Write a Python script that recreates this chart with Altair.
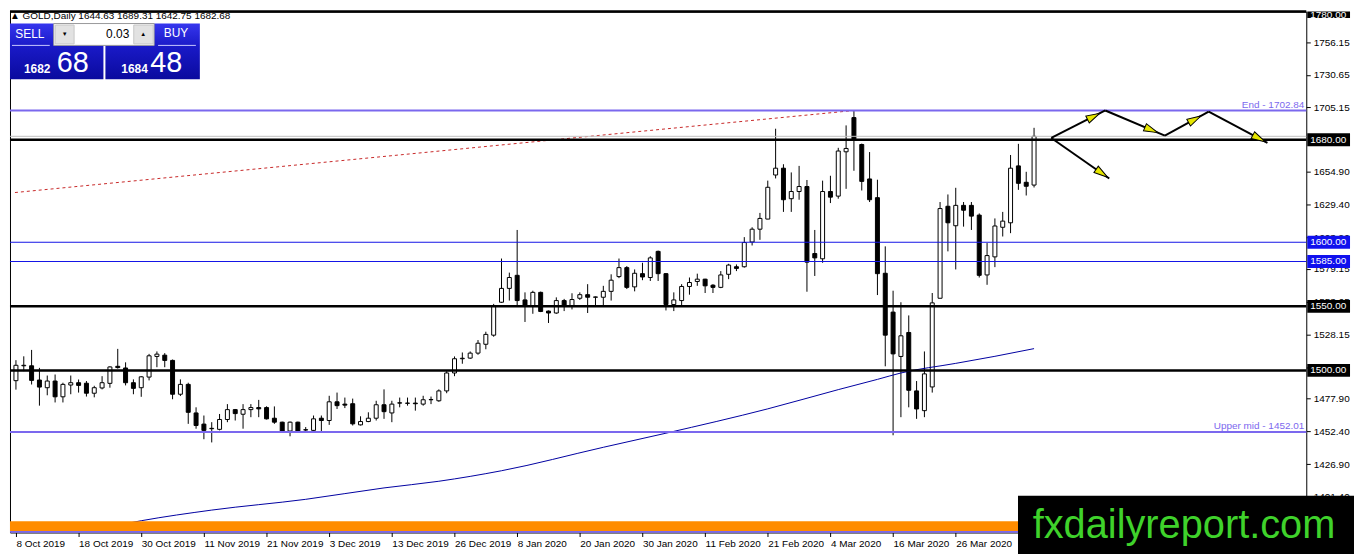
import math
import altair as alt
import pandas as pd

# ---------------- data ----------------
opens = [1492, 1503.6, 1503.6, 1492.5, 1486.5, 1491.7, 1479.4, 1488.6, 1490.4, 1490,
         1482.2, 1486.3, 1489.9, 1503.2, 1501.9, 1490.4, 1486.5, 1494.8, 1510.9, 1511.9,
         1507.8, 1481.4, 1489.1, 1466.8, 1458.1, 1454.5, 1454, 1461.7, 1469.4, 1465.8,
         1469.4, 1471, 1471, 1462.7, 1459.6, 1452.7, 1459.6, 1453.7, 1453.2, 1462.7,
         1460.9, 1475.5, 1473.7, 1474, 1457.5, 1460.1, 1462.7, 1473.2, 1466.8, 1474.7,
         1474.3, 1474.5, 1473.7, 1477.1, 1476.3, 1484, 1498, 1509.1, 1509.6, 1513.5,
         1520.4, 1527.5, 1553.2, 1564, 1574.2, 1555, 1550.6, 1560.9, 1546.3, 1544.8,
         1554.5, 1550.6, 1556.3, 1559.1, 1557.1, 1557.1, 1561.7, 1573.2, 1580.2, 1565.2,
         1575.5, 1572.5, 1592.9, 1575.5, 1551.4, 1554.5, 1565.5, 1569.4, 1571.2, 1566.5,
         1564.8, 1575, 1580.9, 1580.9, 1600.2, 1610.2, 1618.1, 1652.5, 1657.8, 1634,
         1639.6, 1643.5, 1591.2, 1587.1, 1639.6, 1636, 1670.6, 1697.3, 1676.3, 1649.4,
         1634.8, 1575.8, 1545.5, 1510.9, 1529.6, 1484, 1468.6, 1487.1, 1556.3, 1628.1,
         1612.9, 1628.8, 1628.8, 1621.2, 1574.5, 1588.6, 1611.7, 1615.2, 1659.6, 1646.8, 1644.63]
highs = [1508, 1511, 1516, 1502, 1496, 1496.8, 1490.4, 1496, 1492.9, 1491.7,
         1488, 1495.5, 1503.2, 1516.8, 1506.3, 1493, 1495.5, 1512.9, 1514.8, 1513.5,
         1508.5, 1493, 1490.4, 1471.2, 1464.8, 1459.6, 1466, 1473.7, 1469.9, 1473.7,
         1473.7, 1477, 1472, 1471.9, 1460, 1460.1, 1460, 1455.8, 1464.8, 1464.8,
         1480.2, 1482.7, 1478.8, 1478, 1464.2, 1467.3, 1476.3, 1485.2, 1476.3, 1478.8,
         1478.8, 1478.8, 1480.2, 1479.6, 1485.2, 1499.4, 1510.9, 1514, 1514.8, 1523.7,
         1530.2, 1551.9, 1587.3, 1576.3, 1609.6, 1560.9, 1562.2, 1561.5, 1546.8, 1557,
         1555.8, 1560.2, 1560.9, 1567.3, 1557.6, 1566, 1575, 1587.3, 1581.4, 1578.8,
         1584, 1589.1, 1593.5, 1576, 1560.9, 1567.3, 1572.5, 1575.5, 1571.5, 1567.3,
         1577.5, 1583.2, 1582.7, 1604, 1611.7, 1622.9, 1648.1, 1688.6, 1660.9, 1654.5,
         1659.6, 1648.6, 1609.6, 1648.1, 1651.9, 1673.7, 1691.2, 1702.84, 1677, 1670.4,
         1648.8, 1596.8, 1562.2, 1553.2, 1542.9, 1491.7, 1514.8, 1560.4, 1631.4, 1637.3,
         1642.5, 1631.4, 1631.4, 1622.5, 1599.4, 1618.6, 1623.7, 1668.1, 1676.8, 1655, 1689.31]
lows = [1485, 1499.4, 1489, 1472.5, 1480.6, 1475, 1475, 1481.4, 1482.7, 1479.6,
        1479, 1485.2, 1486.5, 1501.4, 1488.3, 1481.4, 1479.4, 1492.2, 1502.5, 1502.5,
        1477.5, 1480, 1458.3, 1454.5, 1446.3, 1443.8, 1453.2, 1459.6, 1460.9, 1454.5,
        1463.5, 1463.5, 1461.7, 1458.3, 1452.5, 1448.6, 1451.9, 1452.5, 1452.5, 1451.9,
        1457.5, 1469.9, 1470.6, 1457, 1457, 1459.6, 1460.9, 1462.2, 1459.6, 1471.2,
        1472.5, 1468.6, 1472.5, 1473.7, 1475.5, 1482.2, 1495.5, 1505.2, 1509, 1512.2,
        1516.5, 1526.3, 1552.7, 1554.5, 1550.6, 1537.8, 1544.2, 1545.5, 1537, 1544.2,
        1546.3, 1547.6, 1555, 1544.8, 1549.8, 1549.8, 1554.5, 1572, 1563.5, 1561.7,
        1570.4, 1569.8, 1569.8, 1546.8, 1546.3, 1550.2, 1559.1, 1566, 1560.4, 1560.4,
        1564.2, 1571.2, 1577.5, 1580.2, 1597.5, 1601.9, 1618, 1649.8, 1623.7, 1623.7,
        1633.2, 1561.4, 1573.7, 1584, 1630.6, 1634, 1641.7, 1655.8, 1640.4, 1631.4,
        1558.8, 1503.2, 1449.4, 1463.5, 1471.2, 1462.2, 1463.5, 1482.7, 1556.3, 1592.9,
        1578.8, 1612.2, 1609.6, 1572.5, 1566.8, 1580.6, 1604.5, 1607.1, 1640.9, 1636.5, 1642.75]
closes = [1504, 1504, 1492.2, 1487, 1491.7, 1479.4, 1489.1, 1490.4, 1488.3, 1482.2,
          1486.5, 1490.4, 1502.7, 1502.2, 1490.4, 1486, 1495, 1511.4, 1512.7, 1507.8,
          1481.4, 1489.1, 1467.3, 1457, 1453.2, 1454.8, 1461.7, 1469.4, 1466.3, 1469.4,
          1471, 1470, 1462.2, 1459.6, 1452.7, 1459.6, 1452.5, 1453.5, 1462.2, 1460.9,
          1475.5, 1472.5, 1472.9, 1458.3, 1460.1, 1462.7, 1473.2, 1467.8, 1473.7, 1474.5,
          1474.5, 1474, 1477.1, 1477.3, 1484, 1498, 1509.1, 1509.5, 1513.5, 1521.2,
          1528.1, 1550.6, 1564, 1572.5, 1554.5, 1550.6, 1560.9, 1546, 1544.8, 1554.5,
          1550.6, 1555.3, 1559.1, 1557.1, 1557.3, 1561.7, 1570.4, 1580.2, 1564.8, 1575.8,
          1572.9, 1587.8, 1575.5, 1551.4, 1555, 1565.5, 1568.6, 1571.2, 1566, 1564.8,
          1574.5, 1582.2, 1579.6, 1599.8, 1610.2, 1618.6, 1642.9, 1657.8, 1633.2, 1639.6,
          1643.5, 1584.5, 1587.8, 1639.6, 1635.2, 1671.2, 1673.2, 1680.2, 1647.5, 1633.2,
          1575.5, 1527.5, 1512.9, 1527, 1484.5, 1469.9, 1497.3, 1552.7, 1626.3, 1615.2,
          1628.8, 1625, 1620.4, 1574.2, 1589.6, 1612.7, 1616.5, 1657.8, 1646, 1643.7, 1682.68]

date_labels = ["8 Oct 2019", "18 Oct 2019", "30 Oct 2019", "11 Nov 2019", "21 Nov 2019",
               "3 Dec 2019", "13 Dec 2019", "26 Dec 2019", "8 Jan 2020", "20 Jan 2020",
               "30 Jan 2020", "11 Feb 2020", "21 Feb 2020", "4 Mar 2020", "16 Mar 2020",
               "26 Mar 2020"]
label_step = 8

ma_idx = [9, 16, 25, 37, 47, 54, 62, 75, 83, 96, 105, 110, 113, 120, 125, 130]
ma_val = [1374.2, 1382.7, 1391, 1399.4, 1408.3, 1413.5, 1421.7, 1440, 1451, 1470,
          1485, 1493, 1498, 1505.5, 1511, 1517]

trend_idx = [-0.125, 107]
trend_val = [1638.8, 1702.84]

price_ticks = [1756.15, 1730.65, 1705.15, 1654.90, 1629.40, 1603.90, 1579.15,
               1553.65, 1528.15, 1502.65, 1477.90, 1452.40, 1426.90, 1401.40]

black_levels = [1780, 1680, 1550, 1500]
blue_levels = [1600, 1585]
fibo_levels = [1702.84, 1452.01]
fibo_names = ["End - 1702.84", "Upper mid - 1452.01"]
bid_price = 1682.68
band_lo, band_hi = 1374.6, 1382.3
band_line = 1374.0

arrow_idx = [132.2, 139.1, 146.7, 152.3, 159.8]
arrow_val = [1681.4, 1702.84, 1683.2, 1701.9, 1677.5]
branch_idx, branch_val = 139.6, 1649.8
head_frac = [0.9, 0.88, 0.82, 0.96, 0.97]

title_text = "\u25B2 GOLD,Daily  1644.63 1689.31 1642.75 1682.68"
sell_big, sell_small = "68", "1682"
buy_big, buy_small = "48", "1684"
lot_text = "0.03"
watermark = "fxdailyreport.com"

# ---------------- layout ----------------
W, H = 1304, 524
XMIN, XMAX = -0.125, 164.125
YMIN, YMAX = 1373.5, 1780.0
kx = W / (XMAX - XMIN)
ky = H / (YMAX - YMIN)
FONT = "Liberation Sans"

xs = alt.Scale(domain=[XMIN, XMAX], nice=False, zero=False)
ys = alt.Scale(domain=[YMIN, YMAX], nice=False, zero=False)

label_expr = "[" + ",".join("'%s'" % s for s in date_labels) + "][round(datum.value/%d)]" % label_step
x_axis = alt.Axis(orient="bottom", values=[i * label_step for i in range(len(date_labels))],
                  labelExpr=label_expr, labelAlign="left", tickSize=4, tickColor="black",
                  labelPadding=2, labelFontSize=10, labelFont=FONT, labelColor="black",
                  domain=False, grid=False, title=None, labelFlush=False, labelOverlap=False)
y_axis = alt.Axis(orient="right", values=price_ticks, format=".2f", tickSize=4, tickColor="black",
                  labelPadding=3, labelFontSize=10, labelFont=FONT, labelColor="black",
                  domain=False, grid=False, title=None, labelFlush=False, labelOverlap=False)


def X(field):
    return alt.X(field, scale=xs, axis=x_axis)


def Y(field):
    return alt.Y(field, scale=ys, axis=y_axis)


candles = pd.DataFrame({"i": list(range(len(opens))), "o": opens, "h": highs, "l": lows, "c": closes})

wicks = alt.Chart(candles).mark_rule(color="black", strokeWidth=1).encode(
    x=X("i:Q"), y=Y("l:Q"), y2="h:Q")
bodies = alt.Chart(candles).mark_bar(size=4, stroke="black", strokeWidth=1).encode(
    x=X("i:Q"), y=Y("o:Q"), y2="c:Q",
    fill=alt.condition("datum.c >= datum.o", alt.value("white"), alt.value("black")),
)

ma_df = pd.DataFrame({"i": ma_idx, "v": ma_val})
ma = alt.Chart(ma_df).mark_line(color="#0000a0", strokeWidth=1, interpolate="monotone").encode(
    x=X("i:Q"), y=Y("v:Q"))

tr_df = pd.DataFrame({"i": trend_idx, "v": trend_val})
trend = alt.Chart(tr_df).mark_line(color="#c82828", strokeWidth=1, strokeDash=[3, 3]).encode(
    x=X("i:Q"), y=Y("v:Q"))

band = alt.Chart(pd.DataFrame({"lo": [band_lo], "hi": [band_hi]})).mark_rect(color="#ff8c00").encode(
    x=alt.value(0), x2=alt.value(W), y=Y("lo:Q"), y2="hi:Q")
band_rule = alt.Chart(pd.DataFrame({"p": [band_line]})).mark_rule(color="#7b68ee", strokeWidth=2).encode(
    y=Y("p:Q"))

black_rules = alt.Chart(pd.DataFrame({"p": black_levels})).mark_rule(color="black", strokeWidth=2.5).encode(
    y=Y("p:Q"))
blue_rules = alt.Chart(pd.DataFrame({"p": blue_levels})).mark_rule(color="#1515e6", strokeWidth=1.2).encode(
    y=Y("p:Q"))
fibo_rules = alt.Chart(pd.DataFrame({"p": fibo_levels})).mark_rule(color="#7b68ee", strokeWidth=2).encode(
    y=Y("p:Q"))
bid_rule = alt.Chart(pd.DataFrame({"p": [bid_price]})).mark_rule(color="#c0c0c0", strokeWidth=1).encode(
    y=Y("p:Q"))

fibo_txt = alt.Chart(pd.DataFrame({"p": fibo_levels, "t": fibo_names})).mark_text(
    align="right", baseline="bottom", dy=-1, fontSize=10, font=FONT, color="#7b68ee").encode(
    x=alt.value(W - 2), y=Y("p:Q"), text="t:N")

# arrows
seg_rows, head_rows = [], []
pts = list(zip(arrow_idx, arrow_val))
pairs = [(pts[k], pts[k + 1]) for k in range(len(pts) - 1)] + [(pts[0], (branch_idx, branch_val))]
for (p0, p1), f in zip(pairs, head_frac):
    seg_rows.append({"x0": p0[0], "y0": p0[1], "x1": p1[0], "y1": p1[1]})
    dxp, dyp = (p1[0] - p0[0]) * kx, (p1[1] - p0[1]) * ky
    ln = math.hypot(dxp, dyp)
    ang = math.degrees(math.atan2(dxp, dyp)) % 360
    tx, ty = p0[0] + f * (p1[0] - p0[0]), p0[1] + f * (p1[1] - p0[1])
    back = 7.0 / ln
    head_rows.append({"x": tx - back * (p1[0] - p0[0]), "y": ty - back * (p1[1] - p0[1]), "a": ang})
segs = alt.Chart(pd.DataFrame(seg_rows)).mark_rule(color="black", strokeWidth=2).encode(
    x=X("x0:Q"), x2="x1:Q", y=Y("y0:Q"), y2="y1:Q")
heads = alt.Chart(pd.DataFrame(head_rows)).mark_point(
    shape="M0,-1L0.55,1L-0.55,1Z", filled=True, fill="#e6e600", stroke="black",
    strokeWidth=1, size=196, opacity=1).encode(
    x=X("x:Q"), y=Y("y:Q"), angle=alt.Angle("a:Q", scale=None))

# price labels on the axis
dp = 6.5 / ky
box_rows = ([{"p": p, "col": "black", "t": "%.2f" % p} for p in black_levels] +
            [{"p": p, "col": "#1010ee", "t": "%.2f" % p} for p in blue_levels])
box_df = pd.DataFrame(box_rows)
box_df["lo"] = [max(p - dp, YMIN) for p in box_df["p"]]
box_df["hi"] = [min(p + dp, YMAX) for p in box_df["p"]]
box_df["ty"] = [min(p, YMAX - 3.5 / ky) for p in box_df["p"]]
boxes = alt.Chart(box_df).mark_rect().encode(
    x=alt.value(W + 1), x2=alt.value(W + 44),
    y=Y("lo:Q"), y2="hi:Q",
    color=alt.Color("col:N", scale=None))
box_txt = alt.Chart(box_df).mark_text(align="left", baseline="middle", fontSize=10, font=FONT,
                                      color="white").encode(
    x=alt.value(W + 4), y=Y("ty:Q"), text="t:N")

# ---------------- overlay widgets (pixel positioned) ----------------
dummy = pd.DataFrame({"a": [0]})


def prect(x0, x1, y0, y1, **kw):
    return alt.Chart(dummy).mark_rect(**kw).encode(
        x=alt.value(x0), x2=alt.value(x1), y=alt.value(y0), y2=alt.value(y1))


def ptext(x, y, txt, **kw):
    kw.setdefault("font", FONT)
    return alt.Chart(dummy).mark_text(text=txt, **kw).encode(x=alt.value(x), y=alt.value(y))


def prule(x0, x1, y0, y1, **kw):
    return alt.Chart(dummy).mark_rule(**kw).encode(
        x=alt.value(x0), x2=alt.value(x1), y=alt.value(y0), y2=alt.value(y1))


grad = alt.Gradient(gradient="linear",
                    stops=[alt.GradientStop(color="#3636ee", offset=0),
                           alt.GradientStop(color="#1a1ac8", offset=0.4),
                           alt.GradientStop(color="#0a0a9e", offset=1)],
                    x1=0, x2=0, y1=0, y2=1)

widgets = [
    ptext(0, 4, title_text, align="left", baseline="middle", fontSize=10, color="black"),
    prect(0, 94, 12, 68, color=grad),
    prect(96, 191, 12, 68, color=grad),
    prect(44, 145, 12, 34, fill="white", stroke="#9a9a9a", strokeWidth=1),
    prect(45.5, 64.5, 13.5, 32.5, fill="#e2e2e2", stroke="#c8c8c8", strokeWidth=1),
    prect(124.5, 144, 13.5, 32.5, fill="#e2e2e2", stroke="#c8c8c8", strokeWidth=1),
    ptext(55, 23, "\u25BC", align="center", baseline="middle", fontSize=6, color="black"),
    ptext(134, 23, "\u25B2", align="center", baseline="middle", fontSize=6, color="black"),
    ptext(120, 23, lot_text, align="right", baseline="middle", fontSize=12, color="black"),
    ptext(20, 23, "SELL", align="center", baseline="middle", fontSize=12, color="white"),
    ptext(167, 22, "BUY", align="center", baseline="middle", fontSize=12, color="white"),
    prule(2, 40, 34, 34, color="#c8c8ff", strokeWidth=1),
    prule(149, 187, 34, 34, color="#c8c8ff", strokeWidth=1),
    ptext(14, 62, sell_small, align="left", baseline="alphabetic", fontSize=12, fontWeight="bold", color="white"),
    ptext(47, 61, sell_big, align="left", baseline="alphabetic", fontSize=29, color="white"),
    ptext(112, 62, buy_small, align="left", baseline="alphabetic", fontSize=12, fontWeight="bold", color="white"),
    ptext(141, 61, buy_big, align="left", baseline="alphabetic", fontSize=29, color="white"),
    prect(1014, 1352, 487, 546, color="black"),
    ptext(1181, 530, watermark, align="center", baseline="alphabetic", fontSize=40, color="#3fd22b"),
]

chart = alt.layer(
    wicks, bodies, ma, trend, band, band_rule, bid_rule, black_rules, blue_rules, fibo_rules,
    fibo_txt, segs, heads, boxes, box_txt, *widgets
).properties(width=W, height=H, padding=0, background="white").configure_view(
    stroke="black", strokeWidth=1)

chart.save("out.html", embed_options={"renderer": "svg", "actions": False})
